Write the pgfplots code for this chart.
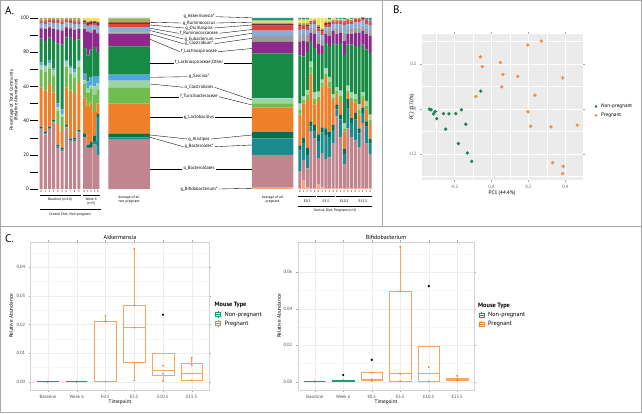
\documentclass[border=0pt]{standalone}
\usepackage{pgfplots}
\pgfplotsset{compat=1.18}
\usepackage{pgfplotstable}
\usepgfplotslibrary{statistics}
\usepackage{fontspec}
\setmainfont{PT Sans}
\setsansfont{PT Sans}
\newcommand\fs[1]{\fontsize{#1}{#1}\selectfont}

\definecolor{cBf}{HTML}{F5A57F}
\definecolor{cBd}{HTML}{C0858F}
\definecolor{cBs}{HTML}{1A8C8E}
\definecolor{cAl}{HTML}{0B6E4F}
\definecolor{cLa}{HTML}{F07F2A}
\definecolor{cTu}{HTML}{6DBE4C}
\definecolor{cCl}{HTML}{9BD3A5}
\definecolor{cSa}{HTML}{4DA6DD}
\definecolor{cLO}{HTML}{178A45}
\definecolor{cLn}{HTML}{8C2A8C}
\definecolor{cCs}{HTML}{9C9C9C}
\definecolor{cEu}{HTML}{86AEDD}
\definecolor{cRc}{HTML}{D9483B}
\definecolor{cOs}{HTML}{7E2347}
\definecolor{cRm}{HTML}{B2AB4A}
\definecolor{cOt}{HTML}{F2E346}
\definecolor{cAk}{HTML}{1B9797}
\definecolor{bgB}{HTML}{EBEBEB}
\definecolor{gB}{HTML}{1E8250}
\definecolor{oB}{HTML}{EE9040}
\definecolor{gC}{HTML}{1B9E77}
\definecolor{oC}{HTML}{F2A65E}
\definecolor{oCd}{HTML}{EA8A35}
\definecolor{frm}{HTML}{A8A8A8}

\pgfplotstableread{
x Bf Bd Bs Al La Tu Cl Sa LO Ln Cs Eu Rc Os Rm Ot Ak
41.1 0 35 0.5 1 23 10 3 1.5 14 6 1 2 1 0.5 1.5 0 0
45.3 0 32 0.5 1 24 11 3 1 14 7 1 2 1.5 0.5 1.5 0 0
49.5 0 35 0.5 1 25 9 3 2 13 6 1 2 1 0.5 1 0 0
53.7 0 39 0.5 1 16 10 3 1 16 7 1 2.5 1.5 0.5 1 0 0
57.9 0 24 1 1 12 8 2 2 35 8 1 3 1.5 0.5 1 0 0
62.1 0 22 1 1 10 8 2 2.5 38 8 1 3 1.5 0.5 1.5 0 0
66.3 0 36 0.5 1 22 12 3 1 13 6 1 2 1 0.5 1 0 0
70.5 0 28 0.5 1 28 10 3 1.5 17 5 1 2 1.5 0.5 1 0 0
74.7 0 28 1 1 26 9 3 2 17 6 1 2.5 1.5 0.5 1.5 0 0
78.9 0 33 0.5 1 28 9 3 1 12 6 1 2 1.5 0.5 1.5 0 0
84.5 0 30 0.5 2 21 8 2 4 15 11 1 2 1 1 0.5 1 0
87.85 0 24 0.5 1.5 22 8 3 4 15 14 1 2 1 1.5 0.5 2 0
91.2 0 24 0.5 3 23 8 2 5 16 10 1 3 1 1.5 0.5 1.5 0
94.55 0 26 2 3 14 10 5 6 17 10 1 2 1 1 0.5 1.5 0
97.9 0 20 22 2 6 8 4 4 14 11 1 3 1 1.5 0.5 2 0
299.85 0.5 10 12 3 18 3 3 0.5 28 8 4 3 2 1 1 2 1
303.55 5 12 10 3 20 2 2 0.5 23 9 4 3 2 0.5 1 2 1
307.25 1 11 8 4 28 3 3 0 22 6 4 3 2 1 1 2 1
310.95 0.5 33 3 3 28 4 3 0 12 5 3 2 1 0.5 0.5 1.5 0
314.65 0.5 29 4 4 12 3 4 0 26 8 3 3 1.5 0.5 0.5 1 0
318.35 3 15 10 4 20 2 3 0 22 6 4 3 2 1 1 4 0
322.05 1 20 12 3 24 2 2 0 15 5 3 3 2 1 1 6 0
325.75 0.5 17 14 4 30 2 3 0 15 5 2 2 1.5 1 1 2 0
329.45 0.5 18 12 3 26 3 3 0 18 6 3 2 2 1 0.5 1 1
333.15 0.5 26 8 3 14 2 2 0 30 7 2 2 1.5 0.5 0.5 1 0
336.85 0.5 42 4 3 6 2 2 0 25 6 3 3 1.5 0.5 0.5 0.5 0.5
340.55 0.5 30 10 3 8 3 3 0 28 6 2 3 1.5 0.5 0.5 0.5 0.5
344.25 0.5 14 6 3 10 2 3 0 40 8 5 4 2 0.5 0.5 0.5 1
347.95 0.5 35 12 5 3 2 3 0 24 6 3 3 2 0.5 0.5 0.5 0
351.65 0.5 30 8 3 10 2 3 0 28 6 3 3 1.5 0.5 0.5 0.5 0.5
355.35 0.5 28 12 4 6 2 3 0 28 8 3 3 1.5 0.5 0.5 0 0
359.05 0.5 24 8 3 8 3 3 0 34 8 3 3 1.5 0.5 0.5 0 0
362.75 0.5 38 6 3 5 2 2 0 28 8 3 3 1 0.5 0.5 0 0.5
366.45 0.5 26 10 3 7 2 3 0 30 9 3 3 2 0.5 0.5 0 0.5
370.15 0.5 20 6 3 9 2 3 0 36 10 3 3 2 0.5 0.5 0 1.5
}\indiv

\pgfplotstableread{
x Bf Bd Bs Al La Tu Cl Sa LO Ln Cs Eu Rc Os Rm Ot Ak
129 0 29.2 1.0 2.1 17.6 9.2 4.3 3.5 16.5 7.2 1.0 3.0 2.0 0.8 2.0 0.3 0.3
272.5 1.0 18.9 9.7 3.6 14.6 2.2 3.0 0.3 26.0 6.8 3.4 3.1 3.0 0.8 0.9 1.1 1.6
}\avg

\pgfplotscreateplotcyclelist{taxa}{
{fill=cBf,draw=none},{fill=cBd,draw=none},{fill=cBs,draw=none},{fill=cAl,draw=none},
{fill=cLa,draw=none},{fill=cTu,draw=none},{fill=cCl,draw=none},{fill=cSa,draw=none},
{fill=cLO,draw=none},{fill=cLn,draw=none},{fill=cCs,draw=none},{fill=cEu,draw=none},
{fill=cRc,draw=none},{fill=cOs,draw=none},{fill=cRm,draw=none},{fill=cOt,draw=none},
{fill=cAk,draw=none}}

\newcommand\connLR[4]{%
  \node[font=\fs{4.6},inner sep=1pt] (L) at (199,413-#2) {#1};
  \draw[line width=0.35pt] (150,413-#3) -- (L.west);
  \draw[line width=0.35pt] (L.east) -- (252,413-#4);}
\newcommand\connR[3]{%
  \node[font=\fs{4.6},inner sep=1pt] (L) at (199,413-#2) {#1};
  \draw[line width=0.35pt] (L.east) -- (252,413-#3);}
\newcommand\connL[3]{%
  \node[font=\fs{4.6},inner sep=1pt] (L) at (199,413-#2) {#1};
  \draw[line width=0.35pt] (150,413-#3) -- (L.west);}
\newcommand\boxkey[3]{%
  \fill[gray!8] (#1,413-#2-3.6) rectangle (#1+7.2,413-#2+3.6);
  \draw[#3,line width=0.45pt] (#1+1.2,413-#2-2) rectangle (#1+6,413-#2+2);
  \draw[#3,line width=0.7pt] (#1+1.2,413-#2) -- (#1+6,413-#2);
  \draw[#3,line width=0.45pt] (#1+3.6,413-#2+2) -- (#1+3.6,413-#2+3.4);
  \draw[#3,line width=0.45pt] (#1+3.6,413-#2-2) -- (#1+3.6,413-#2-3.4);}

\begin{document}
\begin{tikzpicture}[x=1pt,y=1pt]
\useasboundingbox (0,0) rectangle (642,413);
\fill[white] (0,0) rectangle (642,413);

% ---------------- Panel A ----------------
\begin{axis}[at={(38pt,224pt)},anchor=south west,scale only axis,
  width=338pt,height=171pt,xmin=38,xmax=376,ymin=0,ymax=100,
  ybar stacked,bar width=3.0,cycle list name=taxa,
  axis lines*=left,axis line style={draw=none},
  ytick={0,20,...,100},minor ytick={10,30,...,90},
  tick align=outside,major tick length=8pt,minor tick length=8pt,
  ytick style={black,line width=0.35pt},
  xtick={41.1,45.3,49.5,53.7,57.9,62.1,66.3,70.5,74.7,78.9,84.5,87.85,91.2,94.55,97.9,
   299.85,303.55,307.25,310.95,314.65,318.35,322.05,325.75,329.45,333.15,336.85,340.55,344.25,347.95,351.65,355.35,359.05,362.75,366.45,370.15},
  xticklabels={0,1,2,3,4,5,6,7,8,9,0,1,2,3,4,0,1,2,3,4,0,1,2,3,4,0,1,2,3,4,0,1,2,3,4},
  xtick style={draw=none},
  x tick label style={font=\fs{2.8},inner sep=0pt,anchor=north,yshift=6.5pt},
  y tick label style={font=\fs{5},inner sep=1pt},
  /pgf/number format/assume math mode=true]
\pgfplotsinvokeforeach{Bf,Bd,Bs,Al,La,Tu,Cl,Sa,LO,Ln,Cs,Eu,Rc,Os,Rm,Ot,Ak}{
  \addplot table[x=x,y=#1]{\indiv};}
\end{axis}
\begin{axis}[at={(38pt,224pt)},anchor=south west,scale only axis,
  width=338pt,height=171pt,xmin=38,xmax=376,ymin=0,ymax=100,
  ybar stacked,bar width=41.5,cycle list name=taxa,hide axis]
\pgfplotsinvokeforeach{Bf,Bd,Bs,Al,La,Tu,Cl,Sa,LO,Ln,Cs,Eu,Rc,Os,Rm,Ot,Ak}{
  \addplot table[x=x,y=#1]{\avg};}
\end{axis}

\node[rotate=90,align=center,font=\fs{4.6}] at (14,413-100) {Percentage of Total Community\\(Relative Abundance)};

\connR{g\_Akkermansia*}{16.7}{17.8}
\connLR{g\_Ruminococcus}{23}{22.3}{22.2}
\connLR{g\_Oscillospira}{28}{25}{25}
\connLR{f\_Ruminococcaceae}{33.3}{28.3}{29.5}
\connLR{g\_Eubacterium}{39}{30.5}{33.3}
\connLR{g\_Clostridium*}{43.7}{34}{38.3}
\connLR{f\_Lachnospiraceae}{51.7}{39.3}{48.5}
\connLR{f\_Lachnospiraceae;Other}{62.7}{62.7}{62.7}
\connL{g\_Sarcina*}{76.7}{77.3}
\connLR{o\_Clostridiales}{87.3}{84}{100}
\connLR{f\_Turicibacteraceae}{96.7}{96.7}{105}
\connLR{g\_Lactobacillus}{117.3}{117.3}{117.3}
\connLR{g\_Alistipes}{139}{135}{135}
\connLR{g\_Bacteroides*}{146.7}{137.3}{145}
\connLR{o\_Bacteroidales}{168.7}{168.7}{168.7}
\connR{g\_Bifidobacterium*}{189}{188.3}

\begin{scope}[line width=0.6pt]
\draw (40,413-195.5) -- (81,413-195.5);
\draw (83,413-195.5) -- (99.5,413-195.5);
\draw (298,413-196.5) -- (316.3,413-196.5);
\draw (317,413-196.5) -- (335,413-196.5);
\draw (335.5,413-196.5) -- (353.5,413-196.5);
\draw (354,413-196.5) -- (372,413-196.5);
\draw (40,413-209.5) -- (101,413-209.5);
\draw (298,413-206) -- (372,413-206);
\end{scope}
\begin{scope}[font=\fs{3.6},inner sep=0pt]
\node at (60,413-200) {Baseline (n=10)};
\node at (91.2,413-199.5) {Week 6};
\node at (91.2,413-203.8) {(n=5)};
\node at (129,413-197.5) {Average of all};
\node at (129,413-201.8) {non-pregnant};
\node at (272.5,413-197.5) {Average of all};
\node at (272.5,413-201.8) {pregnant};
\node at (307.2,413-200.8) {E0.5};
\node at (326,413-200.8) {E5.5};
\node at (344.3,413-200.8) {E10.5};
\node at (363,413-200.8) {E15.5};
\node at (70,413-214.5) {Control Diet, Non-pregnant};
\node at (335,413-210.5) {Control Diet, Pregnant (n=5)};
\end{scope}

% ---------------- Panel B ----------------
\begin{axis}[at={(422pt,233pt)},anchor=south west,scale only axis,
  width=161pt,height=146pt,xmin=-0.375,xmax=0.496,ymin=-0.316,ymax=0.333,
  axis background/.style={fill=bgB},axis line style={draw=none},
  grid=both,major grid style={white,line width=0.6pt},minor grid style={white,line width=0.3pt},
  xtick={-0.2,0,0.2,0.4},ytick={-0.2,0,0.2},
  minor xtick={-0.3,-0.1,0.1,0.3},minor ytick={-0.3,-0.1,0.1,0.3},
  tick align=outside,major tick length=2pt,minor tick length=0pt,
  tick style={gray!70,line width=0.4pt},
  tick label style={font=\fs{4.6},text=black!60},
  /pgf/number format/.cd,fixed,fixed zerofill,precision=1,assume math mode=true]
\addplot[only marks,mark=*,mark size=1.5pt,gB] coordinates {
(-0.335,-0.001) (-0.326,-0.004) (-0.304,-0.012) (-0.313,-0.022) (-0.295,-0.043)
(-0.259,-0.021) (-0.229,-0.022) (-0.192,-0.021) (-0.162,-0.004) (-0.247,-0.090)
(-0.138,-0.068) (-0.178,-0.154) (-0.130,-0.196) (-0.106,-0.233) (-0.057,0.079)};
\addplot[only marks,mark=*,mark size=1.5pt,oB] coordinates {
(-0.059,0.231) (-0.049,0.188) (-0.084,0.055) (0.049,0.206) (0.063,0.153)
(0.056,0.098) (0.143,0.145) (0.198,0.284) (0.270,0.301) (0.386,0.138)
(0.236,0.061) (0.198,-0.013) (0.213,-0.077) (0.323,-0.080) (0.465,-0.072)
(0.332,-0.239) (0.389,-0.255) (0.386,-0.288)};
\end{axis}
\node[font=\fs{5.2}] at (502,413-193) {PC1 (44.4\%)};
\node[font=\fs{5.2},rotate=90] at (412,413-107) {PC2 (17.0\%)};
\fill[gB] (596,413-106.3) circle (1.5);
\node[font=\fs{5.2},anchor=west,inner sep=0pt] at (601,413-106.3) {Non-pregnant};
\fill[oB] (596,413-115.3) circle (1.5);
\node[font=\fs{5.2},anchor=west,inner sep=0pt] at (601,413-115.3) {Pregnant};

% ---------------- Panel C ----------------
\pgfplotsset{cbox/.style={scale only axis,anchor=south west,
  xmin=0.4,xmax=6.6,xtick={1,...,6},
  xticklabels={Baseline,Week 6,E0.5,E5.5,E10.5,E15.5},
  grid=major,major grid style={gray!14,line width=0.4pt},
  minor grid style={gray!7,line width=0.3pt},
  axis line style={gray!35},tick align=outside,major tick length=2pt,minor tick length=0pt,
  tick style={gray!70,line width=0.4pt},
  tick label style={font=\fs{4.6},text=black!70},
  scaled y ticks=false,
  yticklabel style={/pgf/number format/.cd,fixed,fixed zerofill,precision=2,assume math mode=true},
  boxplot/draw direction=y,boxplot/box extend=0.75,boxplot/whisker extend=0,
  boxplot/every median/.style={line width=0.9pt}}}

\begin{axis}[cbox,at={(30.7pt,23pt)},width=178.3pt,height=147.7pt,
  ymin=-0.0029,ymax=0.0487,ytick={0,0.01,0.02,0.03,0.04},
  minor ytick={0.005,0.015,0.025,0.035,0.045},yminorgrids=true]
\addplot[draw=gC,line width=0.5pt,boxplot prepared={draw position=1,lower whisker=0,lower quartile=0,median=0,upper quartile=0,upper whisker=0}] coordinates {};
\addplot[draw=gC,line width=0.5pt,boxplot prepared={draw position=2,lower whisker=0,lower quartile=0,median=0,upper quartile=0,upper whisker=0}] coordinates {};
\addplot[draw=oC,line width=0.5pt,boxplot prepared={draw position=3,lower whisker=0,lower quartile=0,median=0.021,upper quartile=0.0212,upper whisker=0.023}] coordinates {};
\addplot[draw=oC,line width=0.5pt,boxplot prepared={draw position=4,lower whisker=0.0005,lower quartile=0.0067,median=0.0189,upper quartile=0.0267,upper whisker=0.0464}] coordinates {};
\addplot[draw=oC,line width=0.5pt,boxplot prepared={draw position=5,lower whisker=0.0003,lower quartile=0.0022,median=0.0041,upper quartile=0.0099,upper whisker=0.0099}] coordinates {};
\addplot[draw=oC,line width=0.5pt,boxplot prepared={draw position=6,lower whisker=0.0005,lower quartile=0.0005,median=0.003,upper quartile=0.0064,upper whisker=0.0083}] coordinates {};
\addplot[only marks,mark=*,mark size=0.8pt,gC] coordinates {(1,0) (2,0)};
\addplot[only marks,mark=*,mark size=0.7pt,oCd] coordinates {
(3,0.023) (3,0.0212) (3,0.021) (3,0) (4,0.0464) (4,0.0267) (4,0.0189) (4,0.0067) (4,0.0005)
(5,0.0056) (5,0.0028) (5,0.0003) (6,0.0083) (6,0.0058) (6,0.0005)};
\addplot[only marks,mark=*,mark size=0.9pt,black] coordinates {(5,0.0234)};
\end{axis}
\node[font=\fs{6}] at (120,413-237.5) {Akkermansia};
\node[font=\fs{5.2}] at (120,413-402) {Timepoint};
\node[font=\fs{5.2},rotate=90] at (11,413-316) {Relative Abundance};
\node[font=\bfseries\fs{6.3},anchor=west,inner sep=0pt] at (214.5,413-305) {Mouse Type};
\boxkey{214.5}{314.7}{gC}
\boxkey{214.5}{323.7}{oCd}
\node[font=\fs{6.2},anchor=west,inner sep=0pt] at (224.5,413-314.7) {Non-pregnant};
\node[font=\fs{6.2},anchor=west,inner sep=0pt] at (224.5,413-323.7) {Pregnant};

\begin{axis}[cbox,at={(297.7pt,23pt)},width=176.6pt,height=147.7pt,
  ymin=-0.0045,ymax=0.0764,ytick={0,0.02,0.04,0.06},
  minor ytick={0.01,0.03,0.05,0.07},yminorgrids=true]
\addplot[draw=gC,line width=0.5pt,boxplot prepared={draw position=1,lower whisker=0.0002,lower quartile=0.0002,median=0.0002,upper quartile=0.0002,upper whisker=0.0002}] coordinates {};
\addplot[draw=gC,line width=0.5pt,boxplot prepared={draw position=2,lower whisker=0.0003,lower quartile=0.0005,median=0.0007,upper quartile=0.0008,upper whisker=0.001}] coordinates {};
\addplot[draw=oC,line width=0.5pt,boxplot prepared={draw position=3,lower whisker=0.0005,lower quartile=0.0009,median=0.0013,upper quartile=0.005,upper whisker=0.005}] coordinates {};
\addplot[draw=oC,line width=0.5pt,boxplot prepared={draw position=4,lower whisker=0.0004,lower quartile=0.0004,median=0.0043,upper quartile=0.0496,upper whisker=0.0739}] coordinates {};
\addplot[draw=oC,line width=0.5pt,boxplot prepared={draw position=5,lower whisker=0.0002,lower quartile=0.0002,median=0.0043,upper quartile=0.0193,upper whisker=0.0193}] coordinates {};
\addplot[draw=oC,line width=0.5pt,boxplot prepared={draw position=6,lower whisker=0.0006,lower quartile=0.0006,median=0.0011,upper quartile=0.0019,upper whisker=0.0033}] coordinates {};
\addplot[only marks,mark=*,mark size=0.8pt,gC] coordinates {(1,0.0002) (2,0.0007)};
\addplot[only marks,mark=*,mark size=0.7pt,oCd] coordinates {
(3,0.005) (3,0.0013) (3,0.0005) (4,0.0739) (4,0.0496) (4,0.0043) (4,0.0004)
(5,0.008) (5,0.0002) (6,0.0033) (6,0.0011) (6,0.0006)};
\addplot[only marks,mark=*,mark size=0.9pt,black] coordinates {(2,0.0037) (3,0.012) (5,0.0524)};
\end{axis}
\node[font=\fs{6}] at (386,413-237.5) {Bifidobacterium};
\node[font=\fs{5.2}] at (386,413-402) {Timepoint};
\node[font=\fs{5.2},rotate=90] at (279,413-316) {Relative Abundance};
\node[font=\bfseries\fs{6.3},anchor=west,inner sep=0pt] at (478,413-306) {Mouse Type};
\boxkey{478}{315}{gC}
\boxkey{478}{324}{oCd}
\node[font=\fs{6.2},anchor=west,inner sep=0pt] at (488,413-315) {Non-pregnant};
\node[font=\fs{6.2},anchor=west,inner sep=0pt] at (488,413-324) {Pregnant};

% ---------------- Frames and panel letters ----------------
\draw[frm,line width=0.8pt] (0.5,0.5) rectangle (641.5,412.5);
\draw[frm,line width=0.8pt] (0.5,413-226) -- (641.5,413-226);
\draw[frm,line width=0.8pt] (382.5,412.5) -- (382.5,413-226);
\node[font=\fs{11},anchor=west,inner sep=0pt] at (5,413-11) {A.};
\node[font=\fs{11},anchor=west,inner sep=0pt] at (393,413-10) {B.};
\node[font=\fs{11},anchor=west,inner sep=0pt] at (5,413-239) {C.};
\end{tikzpicture}
\end{document}
